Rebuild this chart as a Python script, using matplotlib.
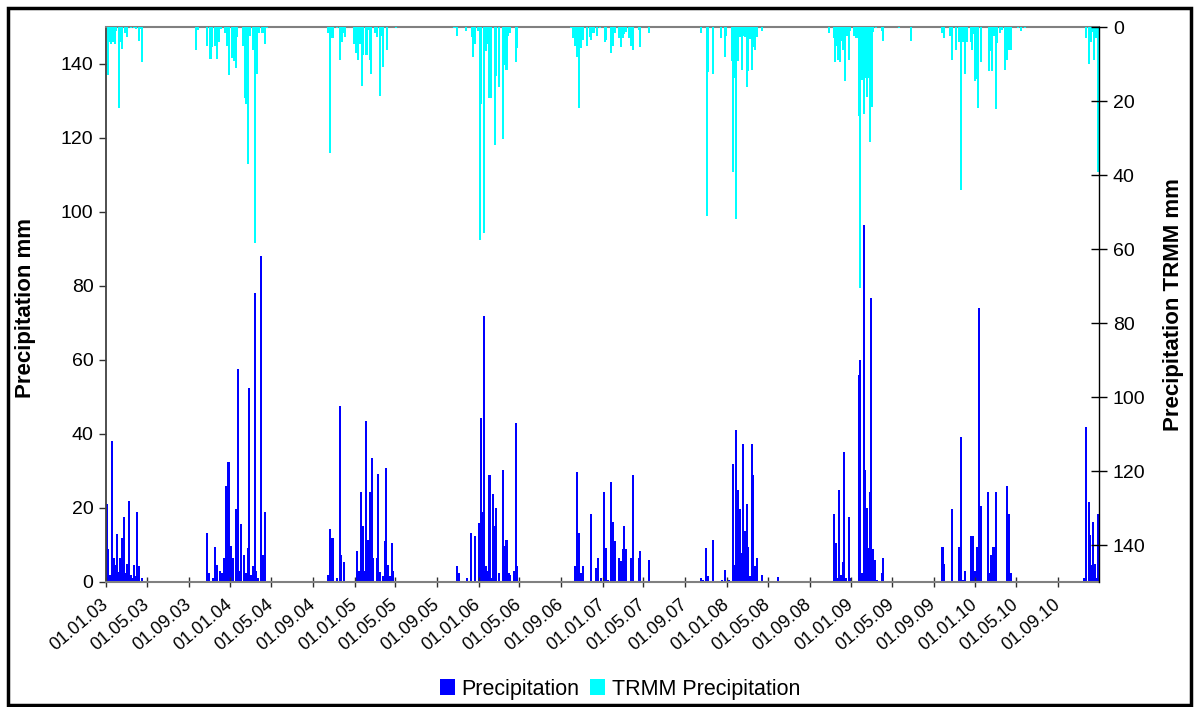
import matplotlib
matplotlib.use("Agg")
import matplotlib.pyplot as plt
import matplotlib.dates as mdates
from matplotlib.patches import Patch, Rectangle
import pandas as pd

plt.rcParams['font.family'] = ['Liberation Sans', 'DejaVu Sans']

# Daily gauge precipitation (mm) - wet days only
precip_dates = [
    "2003-01-04", "2003-01-06", "2003-01-12", "2003-01-19", "2003-01-23", "2003-01-28",
    "2003-02-02", "2003-02-07", "2003-02-12", "2003-02-17", "2003-02-22", "2003-02-27",
    "2003-03-04", "2003-03-10", "2003-03-14", "2003-03-19", "2003-03-25", "2003-03-28",
    "2003-04-02", "2003-04-07", "2003-04-17",
    "2003-10-25", "2003-10-30", "2003-11-12", "2003-11-18", "2003-11-24", "2003-12-01",
    "2003-12-07", "2003-12-15", "2003-12-21", "2003-12-27",
    "2004-01-03", "2004-01-10", "2004-01-17", "2004-01-23", "2004-01-29", "2004-02-03",
    "2004-02-10", "2004-02-16", "2004-02-21", "2004-02-26", "2004-03-03", "2004-03-08",
    "2004-03-13", "2004-03-18", "2004-03-22", "2004-04-02", "2004-04-06", "2004-04-11",
    "2004-10-15", "2004-10-21", "2004-10-28", "2004-11-09", "2004-11-19", "2004-11-23",
    "2004-12-02",
    "2005-01-09", "2005-01-15", "2005-01-21", "2005-01-25", "2005-01-30", "2005-02-04",
    "2005-02-09", "2005-02-14", "2005-02-20", "2005-02-25", "2005-03-07", "2005-03-12",
    "2005-03-16", "2005-03-26", "2005-03-31", "2005-04-04", "2005-04-10", "2005-04-15",
    "2005-04-20", "2005-04-25",
    "2005-10-30", "2005-11-04", "2005-11-29", "2005-12-10", "2005-12-20",
    "2006-01-03", "2006-01-09", "2006-01-13", "2006-01-18", "2006-01-23", "2006-01-28",
    "2006-02-02", "2006-02-07", "2006-02-11", "2006-02-16", "2006-02-22", "2006-03-01",
    "2006-03-15", "2006-03-20", "2006-03-24", "2006-03-30", "2006-04-04", "2006-04-14",
    "2006-04-20", "2006-04-25",
    "2006-10-12", "2006-10-18", "2006-10-24", "2006-10-29", "2006-11-03", "2006-11-29",
    "2006-12-13", "2006-12-18", "2006-12-28",
    "2007-01-06", "2007-01-11", "2007-01-18", "2007-01-26", "2007-02-01", "2007-02-05",
    "2007-02-19", "2007-02-25", "2007-03-03", "2007-03-06", "2007-03-11", "2007-03-26",
    "2007-04-01", "2007-04-17", "2007-04-22", "2007-05-16",
    "2007-10-18", "2007-10-23", "2007-11-02", "2007-11-07", "2007-11-21", "2007-12-18",
    "2007-12-26",
    "2008-01-07", "2008-01-20", "2008-01-24", "2008-01-29", "2008-02-04", "2008-02-09",
    "2008-02-14", "2008-02-19", "2008-02-24", "2008-02-29", "2008-03-05", "2008-03-10",
    "2008-03-15", "2008-03-19", "2008-03-25", "2008-03-31", "2008-04-13", "2008-05-30",
    "2008-11-13", "2008-11-18", "2008-11-22", "2008-11-27", "2008-12-03", "2008-12-07",
    "2008-12-12", "2008-12-18", "2008-12-25", "2008-12-29",
    "2009-01-23", "2009-01-28", "2009-02-02", "2009-02-07", "2009-02-12", "2009-02-17",
    "2009-02-21", "2009-02-26", "2009-03-02", "2009-03-07", "2009-03-13", "2009-03-19",
    "2009-04-03", "2009-04-06",
    "2009-09-27", "2009-10-02", "2009-10-24", "2009-11-16", "2009-11-21", "2009-11-26",
    "2009-12-03", "2009-12-19", "2009-12-23", "2009-12-27",
    "2010-01-01", "2010-01-08", "2010-01-11", "2010-01-14", "2010-01-19", "2010-02-07",
    "2010-02-13", "2010-02-18", "2010-02-24", "2010-03-02", "2010-04-06", "2010-04-10",
    "2010-04-16",
    "2010-11-16", "2010-11-22", "2010-12-01", "2010-12-05", "2010-12-10", "2010-12-15",
    "2010-12-20", "2010-12-25", "2010-12-29", "2010-12-31",
]
precip_mm = [
    21, 9, 2, 38, 6.6, 4.5,
    13, 2.7, 6.4, 11.8, 17.6, 2.5,
    5, 21.8, 1.8, 1, 4.5, 1.5,
    19, 4.3, 1,
    13.2, 2.5, 1, 9.5, 4.5, 3,
    2.5, 6.4, 25.9, 32.5,
    9.8, 6.4, 19.6, 57.5, 3, 15.7,
    7.2, 2.5, 9.1, 52.3, 2, 4.3,
    78, 3, 1, 88, 7.2, 18.9,
    1.8, 14.2, 11.8, 1, 47.5, 7.2,
    5.4,
    8.4, 3, 24.4, 15.2, 3, 43.6,
    11.3, 24.4, 33.5, 6.4, 6.4, 29.3,
    2.7, 1.5, 11.1, 30.9, 4.5, 1.5,
    10.5, 3,
    4.3, 2.5, 1, 13.2, 12.5,
    16, 44.4, 18.9, 72, 4.3, 3,
    29, 1, 23.7, 15.2, 20, 2.5,
    30.3, 9.8, 11.3, 2.5, 1.8, 3,
    42.9, 4.3,
    4.3, 29.8, 13.2, 2.5, 4.3, 18.3,
    3.7, 6.4, 1,
    24.4, 9.1, 0.5, 27, 16.3, 11.1,
    6.4, 5.6, 8.9, 15.2, 8.9, 6.6,
    29, 6.4, 8.4, 5.9,
    1, 0.5, 9.1, 1.5, 11.3, 0.5,
    3.3,
    0.5, 31.9, 4.5, 41, 24.9, 19.6,
    7.9, 37.4, 13.7, 21, 9.5, 1.5,
    37.4, 28.8, 4.3, 6.4, 1.8, 1.3,
    18.3, 10.5, 1, 24.9, 1.8, 5.4,
    35.1, 1, 17.6, 1,
    56, 60, 2.3, 96.4, 30.3, 20,
    9.1, 24.4, 76.7, 8.9, 5.9, 0.5,
    2.3, 6.6,
    9.5, 5, 19.6, 9.5, 39.3, 0.5,
    3, 12.3, 4.3, 12.3,
    3, 9.5, 74, 2.5, 20.5, 24.4,
    2.5, 7.2, 9.5, 24.4, 26, 18.3,
    2.5,
    1, 41.9, 21.5, 12.7, 4.5, 16.3,
    5, 1, 18.3, 6.4,
]

# Daily TRMM satellite precipitation (mm) - wet days only
trmm_dates = [
    "2003-01-06", "2003-01-09", "2003-01-12", "2003-01-15", "2003-01-19", "2003-01-22",
    "2003-01-26", "2003-01-31", "2003-02-07", "2003-02-12", "2003-02-17", "2003-02-24",
    "2003-03-04", "2003-03-14", "2003-03-23", "2003-03-31", "2003-04-07", "2003-04-14",
    "2003-04-17",
    "2003-09-21", "2003-09-28", "2003-10-25", "2003-11-04", "2003-11-09", "2003-11-18",
    "2003-11-24", "2003-11-28", "2003-12-06", "2003-12-18", "2003-12-23", "2003-12-29",
    "2004-01-05", "2004-01-09", "2004-01-12", "2004-01-17", "2004-01-22", "2004-02-08",
    "2004-02-13", "2004-02-16", "2004-02-21", "2004-02-28", "2004-03-07", "2004-03-13",
    "2004-03-16", "2004-03-21", "2004-03-26", "2004-04-05", "2004-04-11", "2004-04-17",
    "2004-10-15", "2004-10-22", "2004-10-28", "2004-11-11", "2004-11-19", "2004-11-24",
    "2004-11-29", "2004-12-05", "2004-12-31",
    "2005-01-05", "2005-01-10", "2005-01-14", "2005-01-18", "2005-01-22", "2005-01-27",
    "2005-02-05", "2005-02-09", "2005-02-14", "2005-02-19", "2005-03-01", "2005-03-07",
    "2005-03-16", "2005-03-21", "2005-03-26", "2005-04-07", "2005-05-04",
    "2005-10-22", "2005-10-30", "2005-11-24", "2005-12-13", "2005-12-16", "2005-12-20",
    "2005-12-30",
    "2006-01-05", "2006-01-09", "2006-01-18", "2006-01-23", "2006-01-28", "2006-02-02",
    "2006-02-07", "2006-02-17", "2006-02-22", "2006-03-01", "2006-03-15", "2006-03-20",
    "2006-03-24", "2006-03-28", "2006-04-02", "2006-04-20", "2006-04-25",
    "2006-10-01", "2006-10-05", "2006-10-12", "2006-10-18", "2006-10-24", "2006-10-30",
    "2006-11-04", "2006-11-15", "2006-11-24", "2006-11-29", "2006-12-05", "2006-12-16",
    "2006-12-25",
    "2007-01-07", "2007-01-12", "2007-01-26", "2007-02-01", "2007-02-05", "2007-02-19",
    "2007-02-25", "2007-03-03", "2007-03-06", "2007-03-11", "2007-03-20", "2007-03-26",
    "2007-04-01", "2007-04-17", "2007-04-22", "2007-05-16",
    "2007-10-18", "2007-11-03", "2007-11-07", "2007-11-21", "2007-12-16", "2007-12-26",
    "2007-12-31",
    "2008-01-17", "2008-01-20", "2008-01-24", "2008-01-29", "2008-02-04", "2008-02-09",
    "2008-02-14", "2008-02-19", "2008-02-24", "2008-02-29", "2008-03-05", "2008-03-10",
    "2008-03-15", "2008-03-19", "2008-03-25", "2008-03-31", "2008-04-13",
    "2008-10-29", "2008-11-11", "2008-11-14", "2008-11-20", "2008-11-24", "2008-11-28",
    "2008-12-03", "2008-12-08", "2008-12-13", "2008-12-19", "2008-12-25", "2008-12-30",
    "2009-01-11", "2009-01-15", "2009-01-19", "2009-01-23", "2009-01-28", "2009-02-02",
    "2009-02-07", "2009-02-12", "2009-02-17", "2009-02-21", "2009-02-26", "2009-03-03",
    "2009-03-07", "2009-03-14", "2009-04-03", "2009-04-06", "2009-05-21", "2009-06-25",
    "2009-09-27", "2009-10-02", "2009-10-19", "2009-10-24", "2009-11-07", "2009-11-16",
    "2009-11-21", "2009-11-27", "2009-12-03", "2009-12-08", "2009-12-19", "2009-12-23",
    "2009-12-27",
    "2010-01-01", "2010-01-06", "2010-01-10", "2010-01-19", "2010-02-10", "2010-02-15",
    "2010-02-19", "2010-02-25", "2010-03-02", "2010-03-07", "2010-03-15", "2010-03-22",
    "2010-03-31", "2010-04-06", "2010-04-12", "2010-04-16", "2010-05-06", "2010-05-15",
    "2010-05-27",
    "2010-11-24", "2010-12-03", "2010-12-07", "2010-12-10", "2010-12-16", "2010-12-24",
    "2010-12-29",
]
trmm_mm = [
    13, 4, 4, 4.5, 4, 4,
    4.5, 1, 22, 4, 6, 1.5,
    2.7, 0.4, 0.4, 0.6, 3.7, 0.6,
    9.5,
    6.2, 0.8, 5, 8.6, 5.4, 5,
    8.6, 4, 0.6, 1.5, 5, 13,
    8.4, 5, 9.1, 11.1, 2.7, 5,
    19.3, 20.8, 37, 2.5, 6.2, 58.5,
    1.5, 12.7, 1.5, 1.5, 4.5, 0.4,
    1.5, 34, 3, 0.4, 8.9, 4,
    1.7, 2.7, 4.5,
    6.9, 8.9, 3, 4.5, 16, 7.6,
    7.6, 0.8, 8.9, 12.7, 1.5, 2.7,
    18.6, 2.3, 10.8, 6.2, 0.4,
    0.4, 2.3, 1, 2.7, 8.2, 4.5,
    1,
    57.5, 20.8, 55.8, 6.4, 4.7, 19.3,
    19.3, 32, 13.2, 16.3, 30.3, 10.3,
    11.5, 2.5, 1.5, 9.5, 5.6,
    0.4, 3, 5, 8.2, 22, 5.6,
    3.5, 5, 2.7, 3.5, 1.5, 2.3,
    0.4,
    4, 3.5, 6.9, 5, 1.7, 3,
    5.4, 3, 2, 1.4, 3, 5,
    6.2, 0.8, 5.4, 1.5,
    1.7, 51, 12.2, 12.7, 3, 8.2,
    2.3,
    9.1, 39.3, 13.7, 52, 9.1, 2.7,
    11.5, 2.5, 2.7, 16.3, 11.8, 3.3,
    11.5, 5.4, 6.2, 2.7, 1,
    1.5, 3, 9.5, 5, 8.9, 9.5,
    3.7, 6.2, 14.7, 2.5, 8.9, 1,
    2.5, 3, 3, 24, 70.6, 14.4,
    23.4, 13.7, 18.9, 13.7, 31, 21.5,
    1.4, 0.4, 1, 3.7, 0.4, 3.7,
    1.7, 3, 2.3, 8.9, 6.2, 4,
    44, 4, 12.7, 4, 4, 6.2,
    2,
    14.7, 14, 22, 9.5, 11.8, 6.4,
    11.8, 2.5, 22.2, 4.3, 1.5, 0.8,
    11.5, 8.9, 6.2, 6.2, 0.4, 1,
    0.4,
    3, 10.1, 4, 1.3, 8.9, 3,
    39.3,
]

tick_dates = pd.date_range("2003-01-01", "2010-09-01", freq="4MS")
axis_start = pd.Timestamp("2002-12-31 12:00")
axis_end = pd.Timestamp("2010-12-31 12:00")

BLUE = "#0000FF"
CYAN = "#00FFFF"

W, H = 1197, 707
fig = plt.figure(figsize=(W / 100, H / 100), dpi=100)
ax = fig.add_axes([106 / W, 1 - 582 / H, 993 / W, 555 / H])
ax2 = ax.twinx()

px = mdates.date2num(pd.to_datetime(precip_dates))
tx = mdates.date2num(pd.to_datetime(trmm_dates))
bar_w = 6  # days; about two pixels at this scale

ax.bar(px, precip_mm, width=bar_w, color=BLUE, linewidth=0, snap=True)
ax2.bar(tx, trmm_mm, width=bar_w, color=CYAN, linewidth=0, snap=True)

ax.set_xlim(mdates.date2num(axis_start), mdates.date2num(axis_end))
ax.set_ylim(0, 150)
ax2.set_ylim(150, 0)
ax.set_yticks(range(0, 141, 20))
ax2.set_yticks(range(0, 141, 20))

ax.set_xticks(mdates.date2num(tick_dates))
ax.xaxis.set_major_formatter(mdates.DateFormatter("%d.%m.%y"))
for lab in ax.get_xticklabels():
    lab.set_rotation(40)
    lab.set_ha("right")
    lab.set_va("center")
    lab.set_rotation_mode("anchor")

# spines
for s in ("left", "top", "bottom", "right"):
    ax2.spines[s].set_visible(False)
ax2.spines["right"].set_visible(True)
ax2.spines["right"].set_color("black")
ax2.spines["right"].set_linewidth(1.0)
ax.spines["right"].set_visible(False)
ax.spines["left"].set_color("#404040")
ax.spines["left"].set_linewidth(1.3)
ax.spines["top"].set_color("#808080")
ax.spines["top"].set_linewidth(1.5)
ax.spines["bottom"].set_color("#808080")
ax.spines["bottom"].set_linewidth(1.5)

ax.tick_params(axis="y", direction="out", length=5, width=1, color="#303030",
               labelsize=14, pad=4)
ax.tick_params(axis="x", direction="inout", length=7, width=1, color="#303030",
               labelsize=13, pad=11)
ax2.tick_params(axis="y", direction="inout", length=12, width=1, color="black",
                labelsize=14, pad=4)

fig.text(26 / W, 1 - 308 / H, "Precipitation mm", rotation=90, ha="center",
         va="center", fontsize=16, fontweight="bold")
fig.text(1174 / W, 1 - 305 / H, "Precipitation TRMM mm", rotation=90, ha="center",
         va="center", fontsize=16, fontweight="bold")

handles = [Patch(facecolor=BLUE, edgecolor="none"), Patch(facecolor=CYAN, edgecolor="none")]
fig.legend(handles, ["Precipitation", "TRMM Precipitation"], loc="center",
           bbox_to_anchor=(620 / W, 1 - 689 / H), ncol=2, frameon=False,
           fontsize=15.5, handlelength=0.7, handleheight=0.7,
           handletextpad=0.3, columnspacing=0.5)

# chart border
fig.add_artist(Rectangle((8 / W, 2 / H), 1183 / W, 697 / H, transform=fig.transFigure,
                         fill=False, edgecolor="black", linewidth=2.5))

fig.savefig("out.png", dpi=100)
